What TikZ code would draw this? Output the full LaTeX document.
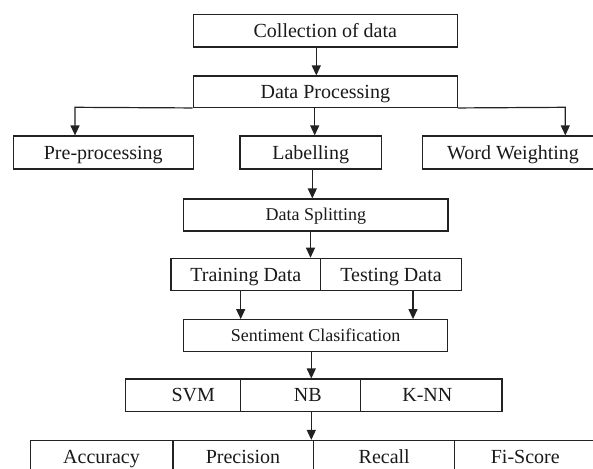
\documentclass[tikz,border=0pt]{standalone}
\usepackage{fontspec}
\setmainfont{Liberation Serif}
\usetikzlibrary{arrows.meta}
\definecolor{linec}{HTML}{222222}
\definecolor{textc}{HTML}{1A1A1A}
\begin{document}
\begin{tikzpicture}[x=1pt,y=-1pt,
  stage/.style={draw=linec, line width=1.2pt, inner sep=0pt,
    minimum height=33pt, text height=13.2pt, text depth=0pt,
    font=\fontsize{20}{22}\selectfont, text=textc},
  small/.style={font=\fontsize{18}{20}\selectfont, text height=11.9pt},
  link/.style={draw=linec, line width=1.2pt},
  arr/.style={link, -{Triangle[width=9pt,length=10pt]}},
]
\clip (0,0) rectangle (593,468);
\fill[white] (0,0) rectangle (593,468);

% main pipeline
\node[stage, minimum width=264pt, minimum height=32.7pt] (collect) at (325.3,30.7) {Collection of data};
\node[stage, minimum width=264pt, minimum height=31.3pt] (proc) at (325.3,91.7) {Data Processing};

\node[stage, minimum width=180pt] (pre) at (103.3,152.5) {Pre-processing};
\node[stage, minimum width=141.3pt] (label) at (310.7,152.5) {Labelling};
\node[stage, minimum width=181.4pt] (weight) at (513,152.5) {Word Weighting};

\node[stage, small, minimum width=264.3pt, minimum height=32pt] (split) at (315.8,215) {Data Splitting};

\node[stage, minimum width=149.7pt, minimum height=32.4pt] (train) at (245.8,274.5) {Training Data};
\node[stage, minimum width=140.6pt, minimum height=32.4pt] (test) at (391,274.5) {Testing Data};

\node[stage, small, minimum width=263.6pt, minimum height=32pt] (sent) at (315.5,335.7) {Sentiment Clasification};

\node[stage, minimum width=115pt, minimum height=32.3pt] (svm) at (183.2,395.2) {\hspace*{20pt}SVM};
\node[stage, minimum width=120pt, minimum height=32.3pt] (nb) at (300.7,395.2) {\hspace*{14pt}NB};
\node[stage, minimum width=141.3pt, minimum height=32.3pt] (knn) at (431.35,395.2) {K-NN\hspace*{8pt}};

% evaluation measures
\node[stage, minimum width=141.6pt] (acc) at (101.5,457) {Accuracy};
\node[stage, minimum width=141.4pt] (prec) at (243,457) {Precision};
\node[stage, minimum width=141pt] (rec) at (384.2,457) {Recall};
\node[stage, minimum width=141.3pt] (fi) at (525.3,457) {Fi-Score};
\draw[link, line width=2.2pt] (acc.north east) -- (acc.south east);

% connectors
\draw[arr] ([xshift=-9pt]collect.south) -- ([xshift=-9pt]collect.south |- proc.north);

\coordinate (busL) at (75,107.3);
\coordinate (busR) at (565.3,107.3);
\draw[arr] (proc.south west) -- (busL) -- (busL |- pre.north);
\draw[arr] (proc.south east) -- (busR) -- (busR |- weight.north);
\draw[arr] ([xshift=-10.6pt]proc.south) -- ([xshift=-10.6pt]proc.south |- label.north);

\draw[arr] ([xshift=1.6pt]label.south) -- ([xshift=1.6pt]label.south |- split.north);
\draw[arr] ([xshift=-5.3pt]split.south) -- ([xshift=-5.3pt]split.south |- train.north);

\draw[arr] ([xshift=-5.1pt]train.south) -- ([xshift=-5.1pt]train.south |- sent.north);
\draw[arr] ([xshift=22pt]test.south) -- ([xshift=22pt]test.south |- sent.north);

\draw[arr] ([xshift=-4.2pt]sent.south) -- ([xshift=-4.2pt]sent.south |- nb.north);
\draw[arr] ([xshift=10.6pt]nb.south) -- ([xshift=10.6pt]nb.south |- prec.north);
\end{tikzpicture}
\end{document}
